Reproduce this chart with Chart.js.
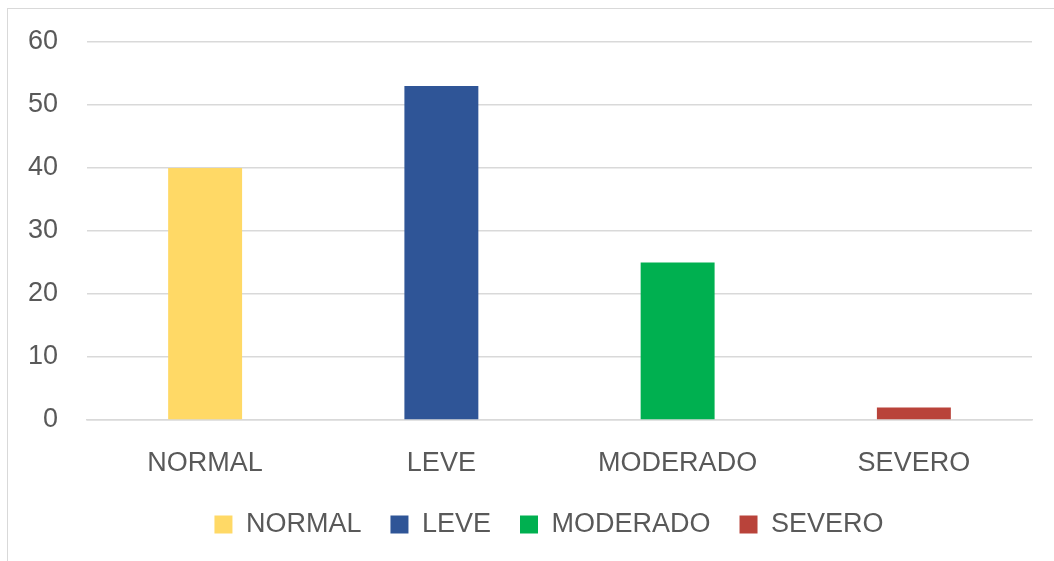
<!DOCTYPE html>
<html>
<head>
<meta charset="utf-8">
<script src="https://cdn.jsdelivr.net/npm/chart.js@4"></script>
<style>
  html, body { margin: 0; padding: 0; background: #fff; overflow: hidden; }
  #frame { position: absolute; left: 7px; top: 8px; width: 1200px; height: 700px; border: 1px solid #d9d9d9; box-sizing: border-box; }
  #wrap { position: absolute; left: 0; top: 0; width: 1054px; height: 561px; }
</style>
</head>
<body>
<div id="frame"></div>
<div id="wrap"><canvas id="c" width="1054" height="561"></canvas></div>
<script>
const categories = ["NORMAL", "LEVE", "MODERADO", "SEVERO"];
const values = [40, 53, 25, 2];
const colors = ["#FFD966", "#2F5597", "#00B050", "#B9433A"];
const yTicks = [0, 10, 20, 30, 40, 50, 60];

const FONT = "'Liberation Sans', Arial, sans-serif";
const TXT = "#595959";

const legendShift = {
  id: 'legendShift',
  afterLayout(chart) {
    const lg = chart.legend;
    if (lg) { lg.left += 33; lg.right += 33; }
  }
};

new Chart(document.getElementById('c'), {
  type: 'bar',
  data: {
    labels: categories,
    datasets: [{
      label: 'Serie',
      data: values,
      backgroundColor: colors,
      borderWidth: 0,
      barPercentage: 0.313,
      categoryPercentage: 1.0
    }]
  },
  plugins: [legendShift],
  options: {
    responsive: false,
    animation: false,
    layout: { padding: { top: 42, right: 22, left: 0, bottom: 13 } },
    plugins: {
      tooltip: { enabled: false },
      legend: {
        position: 'bottom',
        labels: {
          font: { family: FONT, size: 27 },
          color: TXT,
          boxWidth: 18,
          boxHeight: 18,
          padding: 29,
          generateLabels: (chart) => categories.map((c, i) => ({
            text: c,
            fillStyle: colors[i],
            strokeStyle: colors[i],
            lineWidth: 0,
            fontColor: TXT,
            hidden: false,
            index: i
          }))
        },
        onClick: () => {}
      }
    },
    scales: {
      x: {
        afterFit: (scale) => { scale.height = 62; },
        grid: { display: false, drawTicks: false },
        border: { display: true, color: '#d9d9d9', width: 1.5 },
        ticks: { font: { family: FONT, size: 27 }, color: TXT, padding: 27, maxRotation: 0 }
      },
      y: {
        min: 0, max: 60,
        afterBuildTicks: (scale) => { scale.ticks = yTicks.map(v => ({ value: v })); },
        afterFit: (scale) => { scale.width = 87; scale.paddingTop = 0; scale.paddingBottom = 0; },
        grid: { color: '#d9d9d9', lineWidth: 1.5, drawTicks: false },
        border: { display: false },
        ticks: { font: { family: FONT, size: 27 }, color: TXT, padding: 29 }
      }
    }
  }
});
</script>
</body>
</html>
